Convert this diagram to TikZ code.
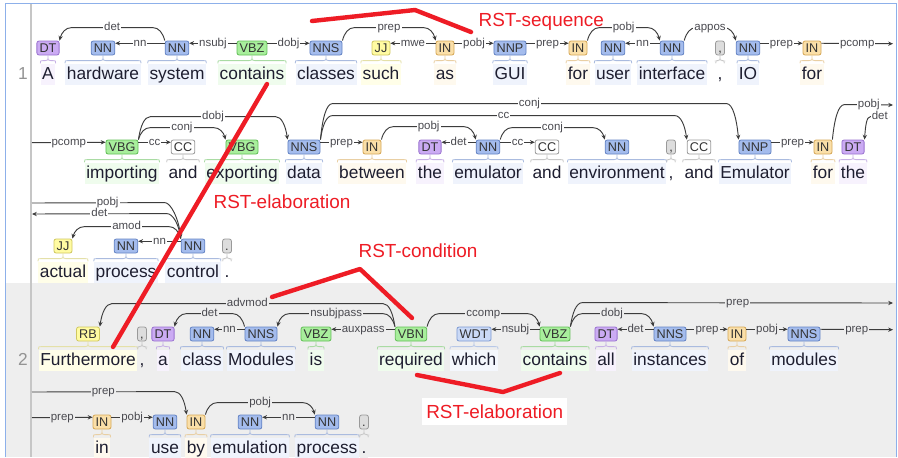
\documentclass[tikz,border=0pt]{standalone}
\usepackage{fontspec}
\setmainfont{Liberation Sans}
\usepackage{tikz}
\usetikzlibrary{calc,arrows.meta}
% tag colours
\definecolor{dtfill}{HTML}{CBABF3}\definecolor{dtline}{HTML}{9A72D0}
\definecolor{nnfill}{HTML}{A4BCED}\definecolor{nnline}{HTML}{6584C4}
\definecolor{vbfill}{HTML}{A8EE9C}\definecolor{vbline}{HTML}{62BE57}
\definecolor{jjfill}{HTML}{FFFBA2}\definecolor{jjline}{HTML}{CFC760}
\definecolor{infill}{HTML}{FADFA8}\definecolor{inline}{HTML}{D6A857}
\definecolor{ccfill}{HTML}{FFFFFF}\definecolor{ccline}{HTML}{9A9A9A}
\definecolor{ptfill}{HTML}{DDDDDD}\definecolor{ptline}{HTML}{9A9A9A}
\definecolor{wdtfill}{HTML}{CAD9F6}\definecolor{wdtline}{HTML}{7E9BD3}
\colorlet{dtbg}{dtfill!16}\colorlet{nnbg}{nnfill!18}\colorlet{vbbg}{vbfill!18}
\colorlet{jjbg}{jjfill!25}\colorlet{inbg}{infill!20}\colorlet{ccbg}{white}
\colorlet{ptbg}{white}\colorlet{wdtbg}{wdtfill!20}
\definecolor{s2bg}{HTML}{EEEEEE}
\definecolor{framec}{HTML}{8DB0EA}
\definecolor{sepc}{HTML}{C6C6C6}
\definecolor{arcc}{HTML}{3C3C3C}
\definecolor{labc}{HTML}{4A4A50}
\definecolor{wordc}{HTML}{1E1E30}
\definecolor{rstred}{HTML}{EE1C25}
\newcommand{\wdfont}{\fontsize{13}{15}\selectfont}
\newcommand{\tagfont}{\fontsize{9.5}{10}\selectfont}
\newcommand{\labfont}{\fontsize{8.6}{9}\selectfont}
\newfontfamily\rstfamily{Liberation Sans}
\newcommand{\rstfont}{\rstfamily\fontsize{14.2}{16}\selectfont}
\tikzset{
  dep/.style={draw=arcc,line width=0.7pt,-{Stealth[length=3.6pt,width=3.2pt]}},
  lab/.style={fill=white,inner sep=0.8pt,font=\labfont,text=labc,text height=6pt,text depth=1.7pt},
  tagbox/.style={rounded corners=1.6pt,line width=0.6pt,inner xsep=2pt,inner ysep=1.85pt,
    text height=6.8pt,text depth=0pt,font=\tagfont,text=black!80},
  wd/.style={anchor=base,fill=#1,font=\wdfont,text=wordc,inner xsep=1.2pt,inner ysep=1.8pt,
    text height=9.8pt,text depth=2.6pt},
  rst/.style={font=\rstfont,text=rstred,inner sep=1pt},
  redline/.style={draw=rstred,line width=3.3pt,line cap=round,line join=round}
}
% curly bracket between tag and word
\newcommand{\brc}[3]{\draw[#3,line width=0.6pt] let \p1=(#2.north west),\p2=(#2.north east),\p3=(#1.south) in
  (\x1,\y1) .. controls (\x1,\y1+2pt) .. (\x1+2pt,\y1+2pt) -- (\x3-2pt,\y1+2pt)
  .. controls (\x3,\y1+2pt) .. (\x3,\y3) .. controls (\x3,\y1+2pt) .. (\x3+2pt,\y1+2pt)
  -- (\x2-2pt,\y1+2pt) .. controls (\x2,\y1+2pt) .. (\x2,\y1);}
% token: name, x, tag y, baseline y, class, tag, word
\newcommand{\tok}[7]{%
  \node[wd=#5bg] (w#1) at (#2,#4) {#7};
  \node[tagbox,fill=#5fill,draw=#5line] (#1) at (#2,#3) {#6};
  \brc{#1}{w#1}{#5line!55}}
% arcs: source, target, height, label
\newcommand{\depR}[4]{\draw[dep] (#1.north east) .. controls +(2,-0.6*#3) and +(-6,0) .. ([shift={(12,-#3)}]#1.north east)
  -- node[lab]{#4} ([shift={(-12,-#3)}]#2.north west) .. controls +(6,0) and +(-2,-0.6*#3) .. (#2.north west);}
\newcommand{\depL}[4]{\draw[dep] (#1.north west) .. controls +(-2,-0.6*#3) and +(6,0) .. ([shift={(-12,-#3)}]#1.north west)
  -- node[lab]{#4} ([shift={(12,-#3)}]#2.north east) .. controls +(-6,0) and +(2,-0.6*#3) .. (#2.north east);}
\newcommand{\flatR}[3]{\draw[dep] ([yshift=-2pt]#1.north east) -- node[lab]{#3} ([yshift=-2pt]#2.north west);}
\newcommand{\flatL}[3]{\draw[dep] ([yshift=-2pt]#1.north west) -- node[lab]{#3} ([yshift=-2pt]#2.north east);}

\begin{document}
\begin{tikzpicture}[x=0.75pt,y=-0.75pt]
\useasboundingbox (0,0) rectangle (898,457);
\fill[white] (0,0) rectangle (898,457);
\fill[s2bg] (6,283) rectangle (896,457);
\draw[framec,line width=1pt] (5.5,457) -- (5.5,3.5) -- (896.5,3.5) -- (896.5,457);
\draw[sepc,line width=1.5pt] (31,4) -- (31,457);
\node[font=\wdfont,text=gray!85,anchor=base] (n1) at (23,79) {1};
\node[font=\wdfont,text=gray!85,anchor=base] (n2) at (23,365) {2};

% sentence 1
\tok{a1}{48}{48}{79}{dt}{DT}{A}
\tok{a2}{103}{48}{79}{nn}{NN}{hardware}
\tok{a3}{177}{48}{79}{nn}{NN}{system}
\tok{a4}{252}{48}{79}{vb}{VBZ}{contains}
\tok{a5}{326}{48}{79}{nn}{NNS}{classes}
\tok{a6}{381}{48}{79}{jj}{JJ}{such}
\tok{a7}{445}{48}{79}{in}{IN}{as}
\tok{a8}{510}{48}{79}{nn}{NNP}{GUI}
\tok{a9}{578}{48}{79}{in}{IN}{for}
\tok{a10}{613}{48}{79}{nn}{NN}{user}
\tok{a11}{672}{48}{79}{nn}{NN}{interface}
\tok{a12}{720}{48}{79}{pt}{,}{,}
\tok{a13}{748}{48}{79}{nn}{NN}{IO}
\tok{a14}{812}{48}{79}{in}{IN}{for}
\tok{a15}{122}{147}{178}{vb}{VBG}{importing}
\tok{a16}{183}{147}{178}{cc}{CC}{and}
\tok{a17}{242}{147}{178}{vb}{VBG}{exporting}
\tok{a18}{304}{147}{178}{nn}{NNS}{data}
\tok{a19}{372}{147}{178}{in}{IN}{between}
\tok{a20}{430}{147}{178}{dt}{DT}{the}
\tok{a21}{488}{147}{178}{nn}{NN}{emulator}
\tok{a22}{547}{147}{178}{cc}{CC}{and}
\tok{a23}{617}{147}{178}{nn}{NN}{environment}
\tok{a24}{671}{147}{178}{pt}{,}{,}
\tok{a25}{699}{147}{178}{cc}{CC}{and}
\tok{a26}{755}{147}{178}{nn}{NNP}{Emulator}
\tok{a27}{823}{147}{178}{in}{IN}{for}
\tok{a28}{853}{147}{178}{dt}{DT}{the}
\tok{a29}{63}{246}{277}{jj}{JJ}{actual}
\tok{a30}{126}{246}{277}{nn}{NN}{process}
\tok{a31}{193}{246}{277}{nn}{NN}{control}
\tok{a32}{227}{246}{277}{pt}{.}{.}

\coordinate (e1pcomp) at (893,43.7);
\coordinate (e2pcomp) at (32,142.7);
\coordinate (e2pobj) at (893,105);
\coordinate (e2det) at (889,117);
\coordinate (e3pobj) at (32,203);
\coordinate (e3det) at (32,214);

\depL{a3}{a1}{13}{det}
\flatL{a3}{a2}{nn}
\flatL{a4}{a3}{nsubj}
\flatR{a4}{a5}{dobj}
\depR{a5}{a7}{13}{prep}
\flatL{a7}{a6}{mwe}
\flatR{a7}{a8}{pobj}
\flatR{a8}{a9}{prep}
\depR{a9}{a11}{13}{pobj}
\flatL{a11}{a10}{nn}
\depR{a11}{a13}{13}{appos}
\flatR{a13}{a14}{prep}
\draw[dep] ([yshift=-2pt]a14.north east) -- node[lab]{pcomp} (e1pcomp);

\draw[dep] (e2pcomp) -- node[lab]{pcomp} ([yshift=-2pt]a15.north west);
\flatR{a15}{a16}{cc}
\depR{a15}{a17}{12}{conj}
\depR{a15}{a18}{23}{dobj}
\depR{a18}{a26}{36}{conj}
\depR{a18}{a25}{24}{cc}
\flatR{a18}{a19}{prep}
\depR{a19}{a21}{13}{pobj}
\flatL{a21}{a20}{det}
\flatR{a21}{a22}{cc}
\depR{a21}{a23}{12}{conj}
\flatR{a26}{a27}{prep}
\draw[dep] (a27.north east) .. controls +(2,-21) and +(-6,0) .. ([shift={(12,-35)}]a27.north east)
  -- node[lab]{pobj} (e2pobj);
\draw[dep] (e2det) -- node[lab]{det} ([shift={(6,-23)}]a28.north east)
  .. controls +(-4,0) and +(1,-14) .. (a28.north east);

\draw[dep] (e3pobj) -- node[lab,pos=0.57]{pobj} ([shift={(-16,-36)}]a31.north west)
  .. controls +(6,0) and +(-2,-20) .. (a31.north west);
\draw[dep] (a31.north west) .. controls +(-2,-15) and +(6,0) .. ([shift={(-14,-25)}]a31.north west)
  -- node[lab]{det} (e3det);
\depL{a31}{a29}{12}{amod}
\flatL{a31}{a30}{nn}

% sentence 2
\begin{scope}[lab/.append style={fill=s2bg}]
\colorlet{ptbg}{s2bg}
\tok{b1}{88}{334}{365}{jj}{RB}{Furthermore}
\tok{b2}{142}{334}{365}{pt}{,}{,}
\tok{b3}{163}{334}{365}{dt}{DT}{a}
\tok{b4}{202}{334}{365}{nn}{NN}{class}
\tok{b5}{261}{334}{365}{nn}{NNS}{Modules}
\tok{b6}{316}{334}{365}{vb}{VBZ}{is}
\tok{b7}{411}{334}{365}{vb}{VBN}{required}
\tok{b8}{474}{334}{365}{wdt}{WDT}{which}
\tok{b9}{555}{334}{365}{vb}{VBZ}{contains}
\tok{b10}{606}{334}{365}{dt}{DT}{all}
\tok{b11}{670}{334}{365}{nn}{NNS}{instances}
\tok{b12}{737}{334}{365}{in}{IN}{of}
\tok{b13}{804}{334}{365}{nn}{NNS}{modules}
\tok{b14}{102}{422}{453}{in}{IN}{in}
\tok{b15}{165}{422}{453}{nn}{NN}{use}
\tok{b16}{196}{422}{453}{in}{IN}{by}
\tok{b17}{250}{422}{453}{nn}{NN}{emulation}
\tok{b18}{327}{422}{453}{nn}{NN}{process}
\tok{b19}{364}{422}{453}{pt}{.}{.}

\coordinate (e4prep) at (893,303);
\coordinate (e4prepb) at (893,329.7);
\coordinate (e5prep) at (32,392);
\coordinate (e5prepb) at (32,417.7);

\depL{b7}{b1}{23}{advmod}
\depL{b5}{b3}{13}{det}
\flatL{b5}{b4}{nn}
\depL{b7}{b5}{13}{nsubjpass}
\flatL{b7}{b6}{auxpass}
\depR{b7}{b9}{13}{ccomp}
\flatL{b9}{b8}{nsubj}
\draw[dep] (b9.north east) .. controls +(2,-14) and +(-6,0) .. ([shift={(12,-24)}]b9.north east)
  -- node[lab]{prep} (e4prep);
\depR{b9}{b11}{13}{dobj}
\flatL{b11}{b10}{det}
\flatR{b11}{b12}{prep}
\flatR{b12}{b13}{pobj}
\draw[dep] ([yshift=-2pt]b13.north east) -- node[lab]{prep} (e4prepb);

\draw[dep] (e5prep) -- node[lab]{prep} ([shift={(-12,-23)}]b16.north west)
  .. controls +(6,0) and +(-2,-14) .. (b16.north west);
\draw[dep] (e5prepb) -- node[lab]{prep} ([yshift=-2pt]b14.north west);
\flatR{b14}{b15}{pobj}
\depR{b16}{b18}{12}{pobj}
\flatL{b18}{b17}{nn}
\end{scope}

% RST annotations
\draw[redline] (312,21) -- (415,10) -- (471,32);
\draw[redline] (267,84) -- (113,347);
\draw[redline] (272,297) -- (360,269) -- (412,318);
\draw[redline] (417,375) -- (503,392) -- (560,373);
\node[rst,anchor=base west] (rstseq) at (477,26) {RST-sequence};
\node[rst,anchor=base west] (rstela) at (212,208) {RST-elaboration};
\node[rst,anchor=base west] (rstcon) at (357,257) {RST-condition};
\node[rst,anchor=base west,fill=white,inner xsep=3pt,inner ysep=5pt] (rstelb) at (422,418) {RST-elaboration};
\end{tikzpicture}
\end{document}
